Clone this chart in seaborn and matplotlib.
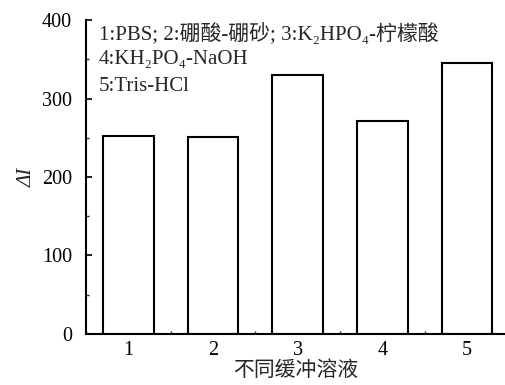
import matplotlib
matplotlib.use("Agg")
import matplotlib.pyplot as plt
from matplotlib.ticker import MultipleLocator
import seaborn as sns
import pandas as pd

# datos del gráfico
buffers = ["1", "2", "3", "4", "5"]
delta_i = [252, 251, 330, 271, 345]
leyenda = [
    "1:PBS; 2:硼酸-硼砂; 3:K₂HPO₄-柠檬酸",
    "4:KH₂PO₄-NaOH",
    "5:Tris-HCl",
]
yticks = [0, 100, 200, 300, 400]

sns.set_theme(style="ticks")
plt.rcParams["font.family"] = ["Liberation Serif", "DejaVu Serif", "Noto Sans CJK SC"]

df = pd.DataFrame({"buffer": buffers, "delta": delta_i})

fig = plt.figure(figsize=(5.06, 3.85), dpi=100)
ax = fig.add_axes([0.170, 0.1325, 0.83, 0.8155])

sns.barplot(data=df, x="buffer", y="delta", order=buffers, width=0.6,
            color="white", edgecolor="black", linewidth=1.5, ax=ax)

ax.set_xlim(-0.5, 4.46)
ax.set_ylim(0, 400)
ax.set_yticks(yticks)
ax.yaxis.set_minor_locator(MultipleLocator(50))
ax.xaxis.set_minor_locator(MultipleLocator(0.5))
ax.tick_params(which="major", direction="in", length=4, width=1.2, labelsize=14.5,
               colors="black")
ax.tick_params(which="minor", direction="in", length=2, width=1.0)
ax.tick_params(axis="y", pad=10)
ax.tick_params(axis="x", pad=5)

for s in ["top", "right"]:
    ax.spines[s].set_visible(False)
for s in ["left", "bottom"]:
    ax.spines[s].set_linewidth(1.5)
    ax.spines[s].set_color("black")

ax.set_xlabel("不同缓冲溶液", fontsize=15, labelpad=1)
ax.set_ylabel("ΔI", fontsize=15, style="italic", labelpad=4)

# texto de la leyenda, arriba a la izquierda
for i, linea in enumerate(leyenda):
    ax.text(0.03, 0.99 - i * 0.086, linea, transform=ax.transAxes,
            fontsize=15, va="top", ha="left")

fig.savefig("out.png", dpi=100)
